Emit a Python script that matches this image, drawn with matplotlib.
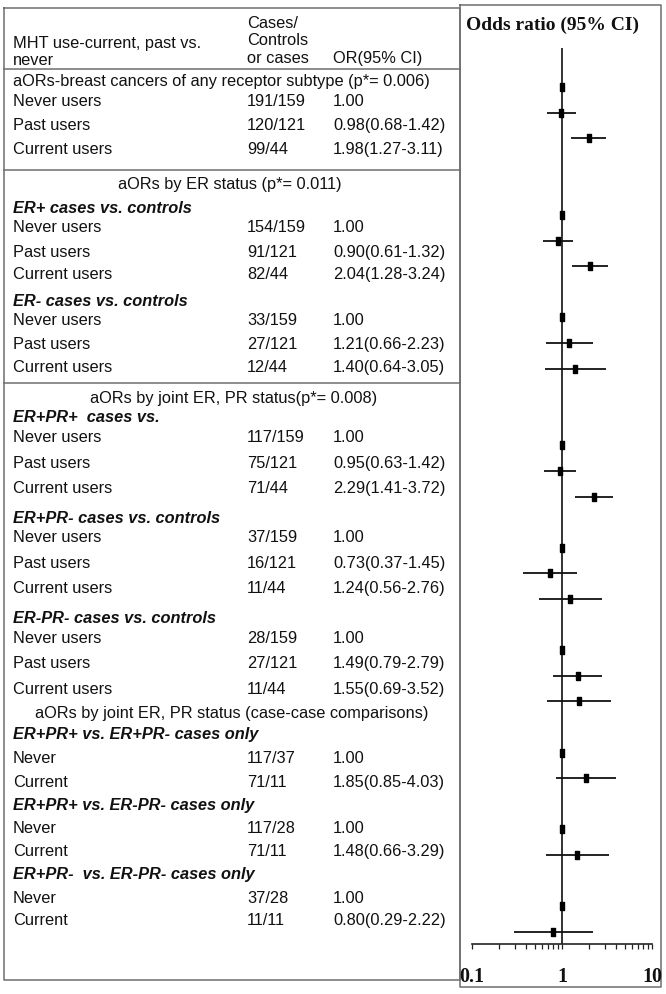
"""Forest plot: MHT use (current / past vs never) and breast cancer by receptor subtype."""

import numpy as np
import matplotlib

matplotlib.use("Agg")
import matplotlib.pyplot as plt
from matplotlib.ticker import FixedLocator, NullFormatter

# ---- data -------------------------------------------------------------------
section_titles = [
    "aORs-breast cancers of any receptor subtype (p*= 0.006)",
    "aORs by ER status (p*= 0.011)",
    "aORs by joint ER, PR status(p*= 0.008)",
    "aORs by joint ER, PR status (case-case comparisons)",
]
subgroup_titles = [
    "ER+ cases vs. controls",
    "ER- cases vs. controls",
    "ER+PR+  cases vs.",
    "ER+PR- cases vs. controls",
    "ER-PR- cases vs. controls",
    "ER+PR+ vs. ER+PR- cases only",
    "ER+PR+ vs. ER-PR- cases only",
    "ER+PR-  vs. ER-PR- cases only",
]
row_labels = (["Never users", "Past users", "Current users"] * 6
              + ["Never", "Current"] * 3)
case_counts = ["191/159", "120/121", "99/44",
               "154/159", "91/121", "82/44",
               "33/159", "27/121", "12/44",
               "117/159", "75/121", "71/44",
               "37/159", "16/121", "11/44",
               "28/159", "27/121", "11/44",
               "117/37", "71/11",
               "117/28", "71/11",
               "37/28", "11/11"]
or_est = [1.00, 0.98, 1.98,
          1.00, 0.90, 2.04,
          1.00, 1.21, 1.40,
          1.00, 0.95, 2.29,
          1.00, 0.73, 1.24,
          1.00, 1.49, 1.55,
          1.00, 1.85,
          1.00, 1.48,
          1.00, 0.80]
ci_low = [1.00, 0.68, 1.27,
          1.00, 0.61, 1.28,
          1.00, 0.66, 0.64,
          1.00, 0.63, 1.41,
          1.00, 0.37, 0.56,
          1.00, 0.79, 0.69,
          1.00, 0.85,
          1.00, 0.66,
          1.00, 0.29]
ci_high = [1.00, 1.42, 3.11,
           1.00, 1.32, 3.24,
           1.00, 2.23, 3.05,
           1.00, 1.42, 3.72,
           1.00, 1.45, 2.76,
           1.00, 2.79, 3.52,
           1.00, 4.03,
           1.00, 3.29,
           1.00, 2.22]
or_text = ["1.00" if e == 1.0 else f"{e:.2f}({lo:.2f}-{hi:.2f})"
           for e, lo, hi in zip(or_est, ci_low, ci_high)]

# ---- layout (pixels, top-down) ----------------------------------------------
W, H = 666, 994
section_y = [80, 183, 397, 712]
section_x = [13, 118, 90, 35]
subgroup_y = [207, 300, 416, 517, 617, 733, 804, 873]
row_y = [100, 124, 148, 226, 251, 273, 319, 343, 366,
         436, 462, 487, 536, 562, 587, 637, 662, 688,
         757, 781, 827, 850, 897, 919]
forest_slot = [0, 1, 2, 5, 6, 7, 9, 10, 11, 14, 15, 16,
               18, 19, 20, 22, 23, 24, 26, 27, 29, 30, 32, 33]
X_LABEL, X_CASES, X_OR = 13, 247, 333
FS = 11.8                     # pt, table text
FPX = FS * 100 / 72           # in px
BASE = 0.358 * FPX            # cap centre -> baseline
TXT = "#111111"
GRID = "#6e6e6e"

plt.rcParams["font.family"] = ["Liberation Sans", "DejaVu Sans"]
fig = plt.figure(figsize=(W / 100, H / 100), dpi=100)
ax0 = fig.add_axes([0, 0, 1, 1])
ax0.set_xlim(0, W)
ax0.set_ylim(H, 0)
ax0.axis("off")


def put(x, y, s, **kw):
    ax0.text(x, y + BASE, s, fontsize=FS, color=TXT, va="baseline", ha="left", **kw)


# table frame and rules
ax0.plot([4, 460, 460, 4, 4], [8, 8, 980, 980, 8], color=GRID, lw=1.1)
for yy in (69, 170, 383):
    ax0.plot([4, 460], [yy, yy], color=GRID, lw=1.1)
# forest frame
ax0.plot([460, 661, 661, 460, 460], [5, 5, 987, 987, 5], color=GRID, lw=1.1)

# header
put(X_LABEL, 42, "MHT use-current, past vs.")
put(X_LABEL, 59, "never")
put(X_CASES, 22, "Cases/")
put(X_CASES, 39, "Controls")
put(X_CASES, 57, "or cases")
put(X_OR, 57, "OR(95% CI)")

for s, x, y in zip(section_titles, section_x, section_y):
    put(x, y, s)
for s, y in zip(subgroup_titles, subgroup_y):
    put(X_LABEL, y, s, fontweight="bold", fontstyle="italic")
for lab, cc, ort, y in zip(row_labels, case_counts, or_text, row_y):
    put(X_LABEL, y, lab)
    put(X_CASES, y, cc)
    put(X_OR, y, ort)

ax0.text(553, 30, "Odds ratio (95% CI)", fontsize=14, fontweight="bold",
         family="Liberation Serif", ha="center", va="baseline", color=TXT)

# ---- forest panel -------------------------------------------------------------
x0, x1, ytop, ybot = 472, 652, 48, 944
unit, y_first = 25.6, 87
ax = fig.add_axes([x0 / W, 1 - ybot / H, (x1 - x0) / W, (ybot - ytop) / H])
ax.set_xscale("log")
ax.set_xlim(0.1, 10)
ax.set_ylim((ybot - y_first) / unit, (ytop - y_first) / unit)
ax.patch.set_alpha(0)
for side in ("top", "left", "right"):
    ax.spines[side].set_visible(False)
ax.spines["bottom"].set_linewidth(1.2)
ax.spines["bottom"].set_color("#222222")
ax.set_yticks([])
ax.xaxis.set_major_locator(FixedLocator([0.1, 1, 10]))
ax.set_xticklabels(["0.1", "1", "10"], fontsize=14.5, fontweight="bold",
                   family="Liberation Serif", color=TXT)
minor = [m * 10.0 ** d for d in (-1, 0) for m in range(2, 10)]
ax.xaxis.set_minor_locator(FixedLocator(minor))
ax.xaxis.set_minor_formatter(NullFormatter())
ax.tick_params(axis="x", which="both", direction="out", length=3.8, width=0.9,
               color="#222222")
ax.tick_params(axis="x", which="major", pad=13)

ax.axvline(1, color="#222222", lw=1.3, zorder=1)
est = np.array(or_est)
lo = np.array(ci_low)
hi = np.array(ci_high)
slots = np.array(forest_slot)
ax.hlines(slots, lo, hi, color="#111111", lw=1.3, zorder=2)
rect = [(-0.6, -1), (0.6, -1), (0.6, 1), (-0.6, 1), (-0.6, -1)]
ax.plot(est, slots, ls="none", marker=rect, ms=5.5, color="black", zorder=3)

fig.savefig("out.png", dpi=100)
